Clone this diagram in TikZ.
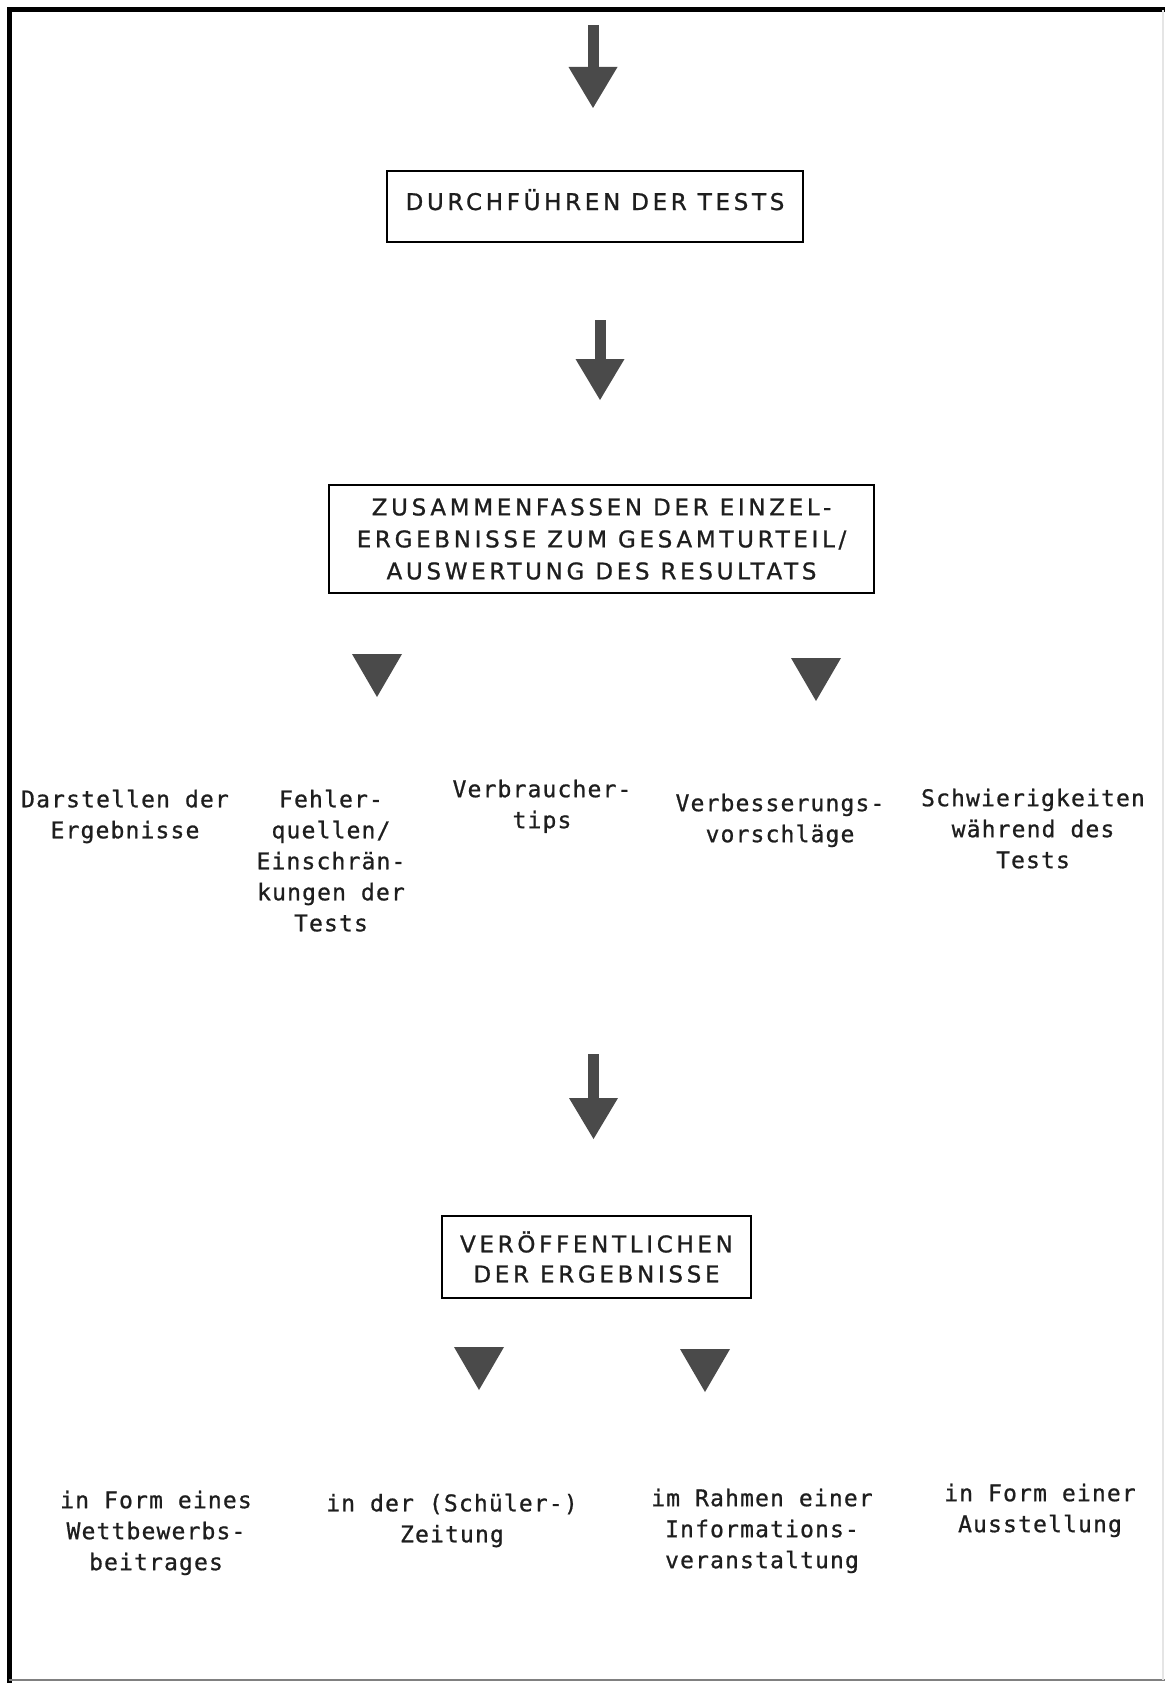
\documentclass[tikz,border=0pt]{standalone}
\usepackage{fontspec}
\usetikzlibrary{arrows.meta}
\newfontfamily\boxfont[LetterSpace=16,FakeBold=1]{DejaVu Sans}
\newfontfamily\itemfont[LetterSpace=5,FakeBold=0.8]{DejaVu Sans Mono}
\definecolor{arrowgray}{HTML}{4A4A4A}
\definecolor{inkgray}{HTML}{1E1E1E}
\tikzset{
  stagebox/.style={draw,line width=2.5pt,inner sep=0pt,align=center,
    text=inkgray,font=\boxfont\fontsize{23}{30}\selectfont},
  itemtext/.style={anchor=north,inner sep=0pt,align=center,
    text=inkgray,font=\itemfont\fontsize{23}{31}\selectfont},
  bigarrow/.style={draw=arrowgray,line width=11pt,
    -{Triangle[width=49pt,length=41pt,line width=0pt]}},
  headtri/.style={fill=arrowgray},
  frameline/.style={line width=5pt}
}
\begin{document}
\begin{tikzpicture}[x=1pt,y=-1pt]
    \useasboundingbox (0,0) rectangle (1165,1683);

    % frame
    \draw [frameline] (9,1683) -- (9,10) -- (1165,10);
    \draw [line width=2pt,black!50] (9,1680) -- (1165,1680);
    \draw [line width=1.5pt,black!10] (1163,10) -- (1163,1680);

    \coordinate (a1) at (593, 25);
    \coordinate (b1) at (593, 108);
    \coordinate (a2) at (600, 320);
    \coordinate (b2) at (600, 400);
    \coordinate (a3) at (593.5, 1054);
    \coordinate (b3) at (593.5, 1139);

    \coordinate (t1) at (377, 654);
    \coordinate (t2) at (816, 658);
    \coordinate (t3) at (479, 1347);
    \coordinate (t4) at (705, 1349);

    \draw [bigarrow] (a1) -- (b1);

    \node [stagebox,minimum width=416pt,minimum height=71pt,text depth=14pt]
    (tests) at (595, 206.5) {DURCHFÜHREN DER TESTS};

    \draw [bigarrow] (a2) -- (b2);

    \node [stagebox,minimum width=545pt,minimum height=108pt,
    font=\boxfont\fontsize{23}{32}\selectfont]
    (einzel) at (601.5, 539) {ZUSAMMENFASSEN DER EINZEL-\\
      ERGEBNISSE ZUM GESAMTURTEIL/\\AUSWERTUNG DES RESULTATS};

    \fill [headtri] (t1) ++(-25,0) -- ++(50,0) -- ++(-25,43) -- cycle;
    \fill [headtri] (t2) ++(-25,0) -- ++(50,0) -- ++(-25,43) -- cycle;

    \node [itemtext] (darst) at (125, 789.5) {Darstellen der\\Ergebnisse};
    \node [itemtext] (fehler) at (331, 789.5)
    {Fehler-\\quellen/\\Einschrän-\\kungen der\\Tests};
    \node [itemtext] (tips) at (542, 779.5) {Verbraucher-\\tips};
    \node [itemtext] (vorschl) at (780, 793.5) {Verbesserungs-\\vorschläge};
    \node [itemtext] (schwier) at (1033, 788.5)
    {Schwierigkeiten\\während des\\Tests};

    \draw [bigarrow] (a3) -- (b3);

    \node [stagebox,minimum width=309pt,minimum height=82pt]
    (veroeff) at (596.5, 1257) {VERÖFFENTLICHEN\\DER ERGEBNISSE};

    \fill [headtri] (t3) ++(-25,0) -- ++(50,0) -- ++(-25,43) -- cycle;
    \fill [headtri] (t4) ++(-25,0) -- ++(50,0) -- ++(-25,43) -- cycle;

    \node [itemtext] (wettb) at (156, 1490.5)
    {in Form eines\\Wettbewerbs-\\beitrages};
    \node [itemtext] (zeitung) at (452, 1493.5) {in der (Schüler-)\\Zeitung};
    \node [itemtext] (rahmen) at (762, 1488.5)
    {im Rahmen einer\\Informations-\\veranstaltung};
    \node [itemtext] (ausst) at (1040, 1483.5) {in Form einer\\Ausstellung};
  \end{tikzpicture}
\end{document}
